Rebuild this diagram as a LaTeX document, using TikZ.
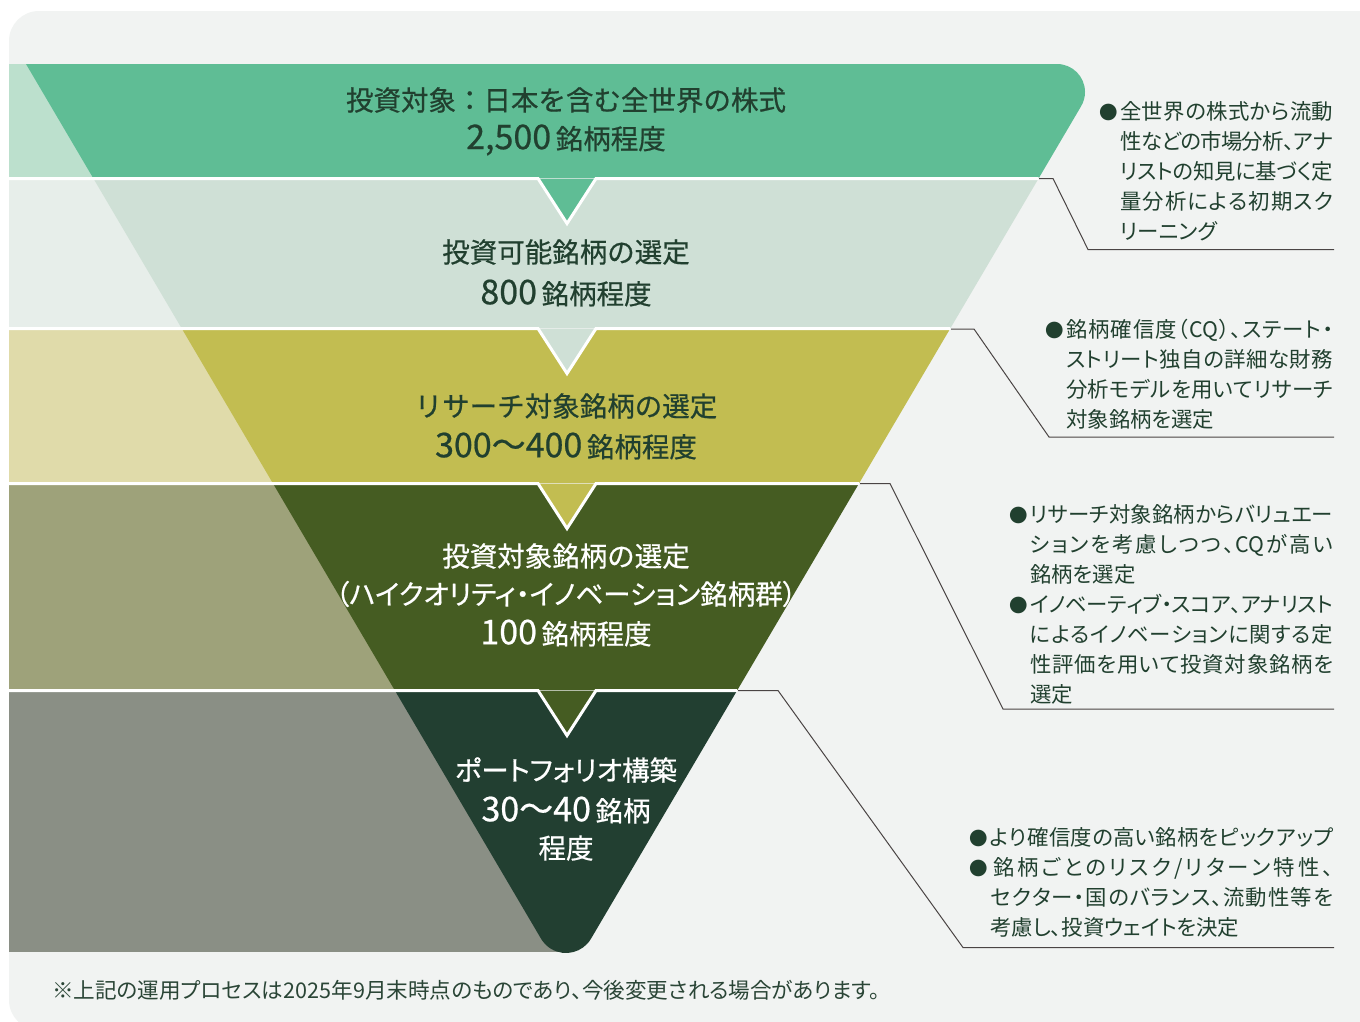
\documentclass[tikz,border=0pt]{standalone}
\usepackage{fontspec}
\setmainfont{Noto Sans CJK JP}
\newfontfamily\fullfont{Noto Sans CJK JP}
\newfontfamily\titlefont{Noto Sans CJK JP}[FakeBold=0.6]
\newfontfamily\titlepfont{Noto Sans CJK JP}[FakeBold=0.6,RawFeature=+palt]
\newfontfamily\descfont{Noto Sans CJK JP}[RawFeature=+palt]
\definecolor{bg}{HTML}{F1F3F2}
\definecolor{cA}{HTML}{5FBD95}\definecolor{sA}{HTML}{BCE0CD}
\definecolor{cB}{HTML}{CFE0D6}\definecolor{sB}{HTML}{E7EEEA}
\definecolor{cC}{HTML}{C2BD51}\definecolor{sC}{HTML}{E0DBAA}
\definecolor{cD}{HTML}{455C22}\definecolor{sD}{HTML}{9EA27A}
\definecolor{cE}{HTML}{223F31}\definecolor{sE}{HTML}{8A8F85}
\definecolor{ink}{HTML}{21402F}
\definecolor{lead}{HTML}{4A4444}
\definecolor{notec}{HTML}{2A4536}
\newcommand*\funnelpath{(26,64) -- (1057,64) arc[start angle=-90,end angle=30.5,radius=28] -- (591,938.7) arc[start angle=30.5,end angle=149.5,radius=29] -- cycle}
\newcommand*\bigdig[1]{{\fontsize{34}{34}\selectfont #1}}
\newcommand*\bul{\llap{{\fullfont\fontsize{18.5}{18.5}\selectfont ●}\hspace{2pt}}}
\makeatletter
\newcommand*\jline[2]{\makebox[#1][s]{\jl@spread#2\@nil}}
\def\jl@spread#1#2\@nil{#1\ifx\relax#2\relax\expandafter\@gobble\else\expandafter\@firstofone\fi{\hskip 0pt plus 1fil minus 1fil\jl@spread#2\@nil}}
\makeatother
\begin{document}
\begin{tikzpicture}[x=1pt,y=-1pt,
  title/.style={font=\titlefont\fontsize{27.5}{30}\selectfont, inner sep=0, anchor=center},
  titlep/.style={font=\titlepfont\fontsize{27.5}{30}\selectfont, inner sep=0, anchor=center},
  desc/.style={font=\descfont\fontsize{21.4}{30}\selectfont, text=ink, align=left, inner sep=0, anchor=north west},
  leader/.style={draw=lead, line width=1pt},
  gap/.style={draw=white, line width=3pt}]
\useasboundingbox (0,0) rectangle (1360,1021);
\fill[white] (0,0) rectangle (1360,1021);
\fill[bg, rounded corners=30pt] (9,11) rectangle (1400,1030);
% bands
\foreach \t/\b/\sb/\cs/\ct in {64/177/177/sA/cA, 180/327/327/sB/cB, 330/482/482/sC/cC, 485/689/689/sD/cD, 692/960/952/sE/cE}{
  \begin{scope}
    \clip (0,\t) rectangle (1360,\b);
    \fill[\cs] (9,\t) rectangle (570,\sb);
    \fill[\ct] \funnelpath;
  \end{scope}
}
% notches and white separators
\foreach \b/\c/\xr in {177/cA/1038.6, 327/cB/950.3, 482/cC/859.0, 689/cD/737.1}{
  \fill[\c] (538,\b+1.5) -- (567,\b+46.5) -- (596,\b+1.5) -- cycle;
  \draw[gap] (9,\b+1.5) -- (538,\b+1.5) -- (567,\b+46.5) -- (596,\b+1.5) -- (\xr,\b+1.5);
}
% titles
\node[title, text=ink] (t1a) at (566,100) {投資対象：日本を含む全世界の株式};
\node[title, text=ink] (t1b) at (566,140) {\bigdig{2,500}\,銘柄程度};
\node[title, text=ink] (t2a) at (566,252) {投資可能銘柄の選定};
\node[title, text=ink] (t2b) at (566,293) {\bigdig{800}\,銘柄程度};
\node[title, text=ink] (t3a) at (566,406) {リサーチ対象銘柄の選定};
\node[title, text=ink] (t3b) at (566,446) {\bigdig{300～400}\,銘柄程度};
\node[title, text=white] (t4a) at (566,556) {投資対象銘柄の選定};
\node[titlep, text=white] (t4b) at (566,594) {（ハイクオリティ・イノベーション銘柄群）};
\node[title, text=white] (t4c) at (566,633) {\bigdig{100}\,銘柄程度};
\node[titlep, text=white] (t5a) at (566,770) {ポートフォリオ構築};
\node[title, text=white] (t5b) at (566,810) {\bigdig{30～40}\,銘柄};
\node[title, text=white] (t5c) at (566,848) {程度};
% descriptions
\node[desc] (d1) at (1120,101) {\bul\jline{213pt}{全世界の株式から流動}\\
  \jline{213pt}{性などの市場分析、アナ}\\
  \jline{213pt}{リストの知見に基づく定}\\
  \jline{213pt}{量分析による初期スク}\\
  リーニング};
\node[desc] (d2) at (1066,319) {\bul\jline{267pt}{銘柄確信度（{CQ}）、ステート・}\\
  \jline{267pt}{ストリート独自の詳細な財務}\\
  \jline{267pt}{分析モデルを用いてリサーチ}\\
  対象銘柄を選定};
\node[desc] (d3) at (1030,504) {\bul\jline{303pt}{リサーチ対象銘柄からバリュエー}\\
  \jline{303pt}{ションを考慮しつつ、{CQ}が高い}\\
  銘柄を選定\\
  \bul\jline{303pt}{イノベーティブ・スコア、アナリスト}\\
  \jline{303pt}{によるイノベーションに関する定}\\
  \jline{303pt}{性評価を用いて投資対象銘柄を}\\
  選定};
\node[desc] (d4) at (990,827) {\bul\jline{343pt}{より確信度の高い銘柄をピックアップ}\\
  \bul\hspace{3pt}\jline{340pt}{銘柄ごとのリスク/リターン特性、}\\
  \jline{343pt}{セクター・国のバランス、流動性等を}\\
  考慮し、投資ウェイトを決定};
% leaders
\coordinate (l1a) at (1039,178.5); \coordinate (l1b) at (1053,178.5); \coordinate (l1c) at (1088,249.5); \coordinate (l1d) at (1334,249.5);
\coordinate (l2a) at (951,329); \coordinate (l2b) at (974,329); \coordinate (l2c) at (1049,437); \coordinate (l2d) at (1334,437);
\coordinate (l3a) at (860,483.5); \coordinate (l3b) at (890,483.5); \coordinate (l3c) at (1003,709); \coordinate (l3d) at (1334,709);
\coordinate (l4a) at (738,690.5); \coordinate (l4b) at (778,690.5); \coordinate (l4c) at (963,947.5); \coordinate (l4d) at (1334,947.5);
\draw[leader] (l1a) -- (l1b) -- (l1c) -- (l1d);
\draw[leader] (l2a) -- (l2b) -- (l2c) -- (l2d);
\draw[leader] (l3a) -- (l3b) -- (l3c) -- (l3d);
\draw[leader] (l4a) -- (l4b) -- (l4c) -- (l4d);
% footnote
\node[font=\descfont\fontsize{21.6}{24}\selectfont, text=notec, inner sep=0, anchor=west] (fn) at (52,990) {※上記の運用プロセスは2025年9月末時点のものであり、今後変更される場合があります。};
\end{tikzpicture}
\end{document}
